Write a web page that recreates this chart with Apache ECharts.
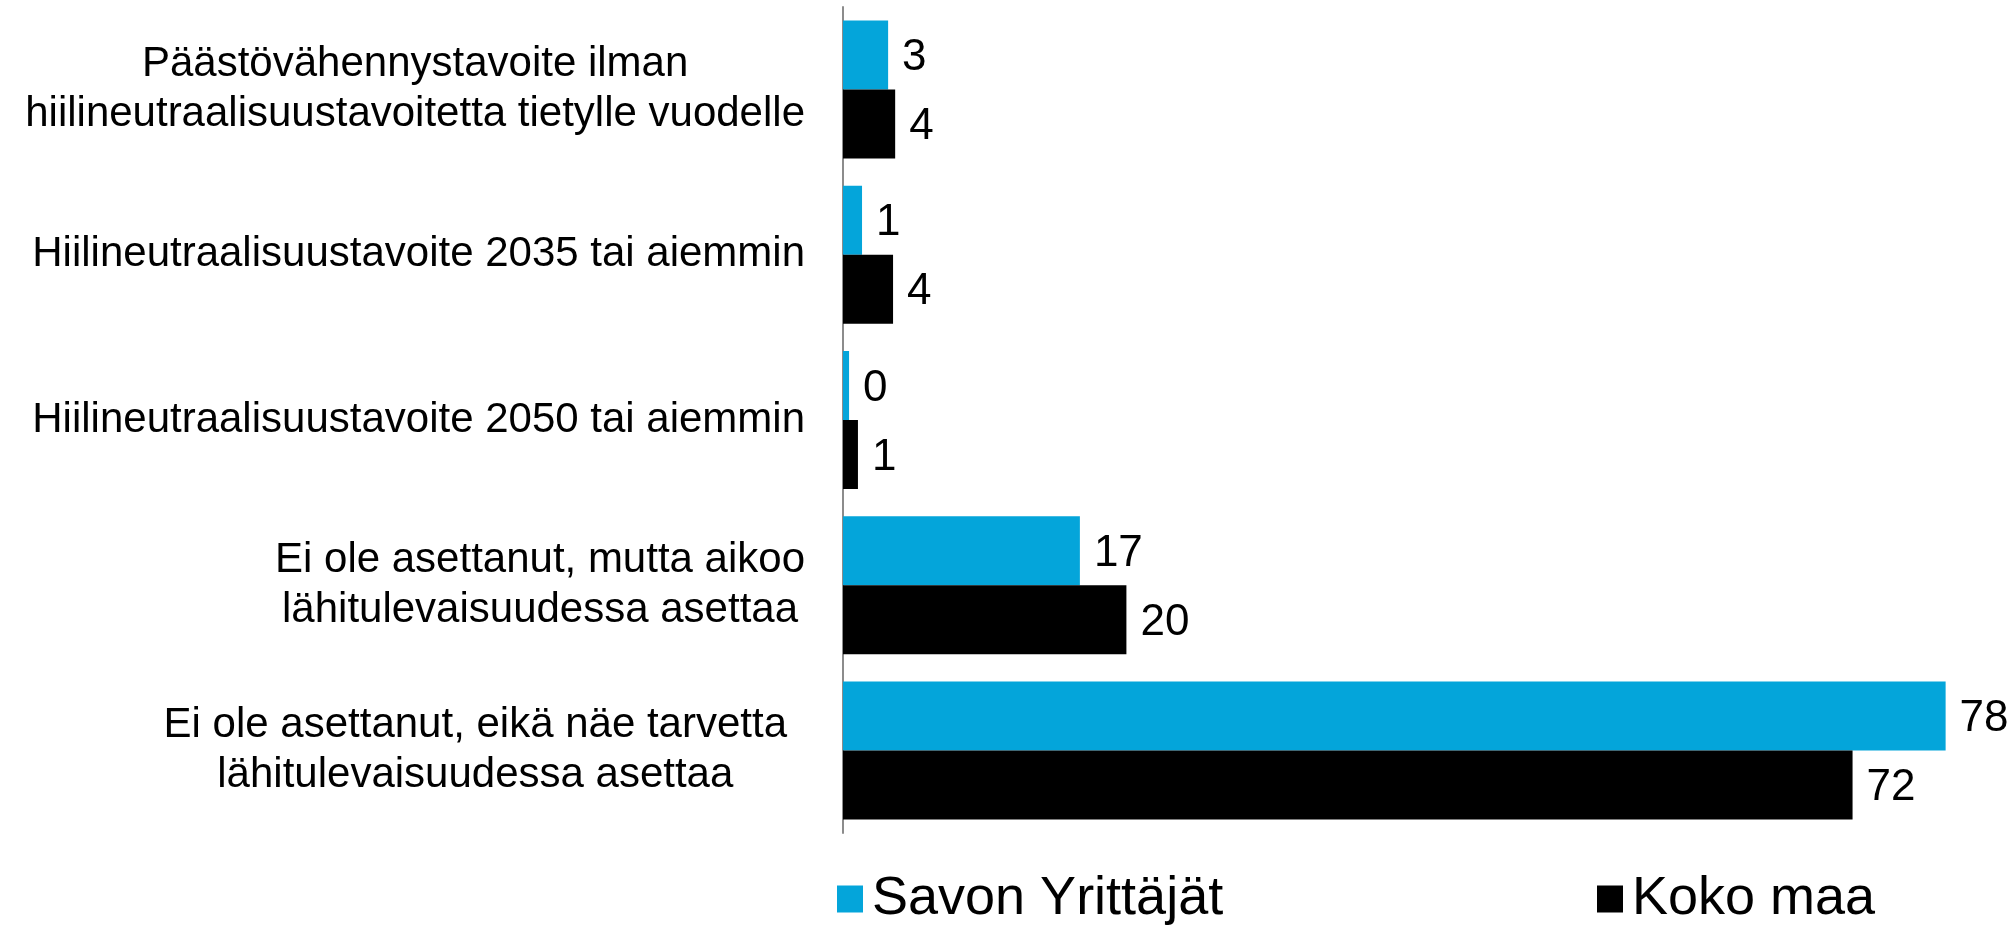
<!DOCTYPE html>
<html>
<head>
<meta charset="utf-8">
<title>Tavoitteet</title>
<script src="https://cdn.jsdelivr.net/npm/echarts@6/dist/echarts.min.js"></script>
<style>
    html, body { margin: 0; padding: 0; background: #fff; }
    #chart { width: 2013px; height: 926px; }
</style>
</head>
<body>
<div id="chart"></div>
<script>
    // categories, top to bottom
    var categories = [
        'Päästövähennystavoite ilman\nhiilineutraalisuustavoitetta tietylle vuodelle',
        'Hiilineutraalisuustavoite 2035 tai aiemmin',
        'Hiilineutraalisuustavoite 2050 tai aiemmin',
        'Ei ole asettanut, mutta aikoo\nlähitulevaisuudessa asettaa',
        'Ei ole asettanut, eikä näe tarvetta\nlähitulevaisuudessa asettaa'
    ];
    var seriesNames = ['Savon Yrittäjät', 'Koko maa'];
    // % values (labels show them rounded)
    var savonValues = [3.2, 1.35, 0.43, 16.8, 78.2];
    var kokoValues = [3.7, 3.55, 1.06, 20.1, 71.6];

    var font = 'Liberation Sans, Arial, sans-serif';
    var chart = echarts.init(document.getElementById('chart'));

    var valueLabel = {
        show: true,
        position: 'right',
        distance: 14,
        offset: [0, 3],
        color: '#000',
        fontSize: 44,
        fontFamily: font,
        formatter: function (p) { return Math.round(p.value); }
    };

    var option = {
        animation: false,
        grid: { left: 843, right: 42, top: 7, bottom: 93 },
        legend: [
            {
                data: [seriesNames[0]], left: 837, top: 872, padding: 0,
                icon: 'rect', itemWidth: 26, itemHeight: 27, itemGap: 0,
                textStyle: { fontSize: 54, fontFamily: font, color: '#000', padding: [0, 0, 0, 4] }
            },
            {
                data: [seriesNames[1]], left: 1597, top: 872, padding: 0,
                icon: 'rect', itemWidth: 26, itemHeight: 27, itemGap: 0,
                textStyle: { fontSize: 54, fontFamily: font, color: '#000', padding: [0, 0, 0, 4] }
            }
        ],
        xAxis: {
            type: 'value', min: 0, max: 80,
            show: false
        },
        yAxis: {
            type: 'category',
            inverse: true,
            data: categories,
            axisLine: { show: true, lineStyle: { color: '#8c8c8c', width: 2 } },
            axisTick: { show: false },
            axisLabel: {
                interval: 0,
                margin: 38,
                formatter: function (v, i) {
                    var key = i === 4 ? 'e' : 'c';
                    return v.split('\n').map(function (s) { return '{' + key + '|' + s + '}'; }).join('\n');
                },
                rich: {
                    c: { align: 'center', fontSize: 42, lineHeight: 50, fontFamily: font, color: '#000' },
                    e: { align: 'center', fontSize: 42, lineHeight: 50, fontFamily: font, color: '#000', padding: [0, 18, 0, 0] }
                }
            }
        },
        series: [
            {
                name: seriesNames[0], type: 'bar', data: savonValues,
                barWidth: 69, barGap: '0%',
                itemStyle: { color: '#04a5da' },
                label: valueLabel
            },
            {
                name: seriesNames[1], type: 'bar', data: kokoValues,
                barWidth: 69, barGap: '0%',
                itemStyle: { color: '#000000' },
                label: valueLabel
            }
        ]
    };
    chart.setOption(option);
</script>
</body>
</html>
